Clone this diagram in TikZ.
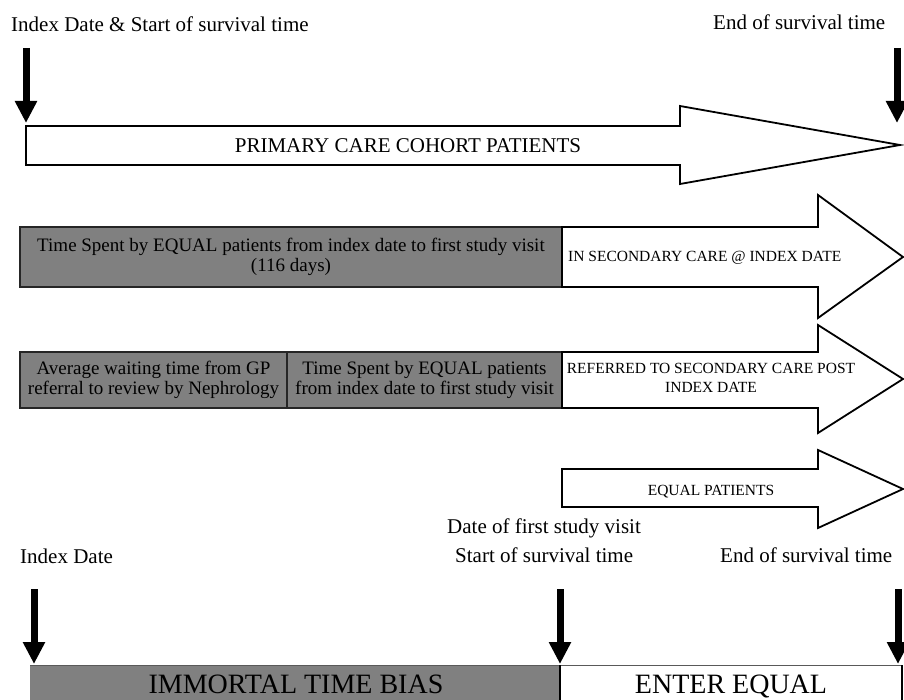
\documentclass[tikz,border=0pt]{standalone}
\usepackage{fontspec}
\setmainfont{Liberation Serif}
\usetikzlibrary{arrows.meta}
\tikzset{
  blockarrow/.style={draw=black, line width=1.8pt, fill=white, line join=miter},
  graybox/.style={draw=black!85, line width=1.3pt, fill=gray},
  lbl/.style={inner sep=0pt, font=\fontsize{21}{24}\selectfont},
  boxtxt/.style={inner sep=0pt, align=center, font=\fontsize{19}{20.5}\selectfont},
  arrtxt/.style={inner sep=0pt, align=center, font=\fontsize{15.5}{19}\selectfont},
  bigtxt/.style={inner sep=0pt, font=\fontsize{28}{30}\selectfont},
  pointer/.style={line width=7pt, -{Triangle[length=22pt, width=21pt]}},
}
\begin{document}
\begin{tikzpicture}[x=1pt, y=-1pt]
\useasboundingbox (0,0) rectangle (904,700);

% top labels
\node[lbl, anchor=base west] (ltop) at (11,32) {Index Date \& Start of survival time};
\node[lbl, anchor=base west] (rtop) at (713,30) {End of survival time};

% top pointer arrows
\coordinate (pa1) at (26,48);  \coordinate (pa2) at (26,123);
\coordinate (pb1) at (897,48); \coordinate (pb2) at (897,123);
\draw[pointer] (pa1) -- (pa2);
\draw[pointer] (pb1) -- (pb2);

% row 1: primary care arrow
\draw[blockarrow] (26,126) -- (680,126) -- (680,106) -- (900,145) -- (680,184) -- (680,165) -- (26,165) -- cycle;
\node[lbl, anchor=base] (prim) at (408,153) {PRIMARY CARE COHORT PATIENTS};

% row 2
\draw[graybox] (20,227) rectangle (562,287);
\node[boxtxt] (t2) at (291,257) {Time Spent by EQUAL patients from index date to first study visit\\(116 days)};
\draw[blockarrow] (562,227) -- (818,227) -- (818,195) -- (903,257) -- (818,318) -- (818,287) -- (562,287) -- cycle;
\node[arrtxt, anchor=base west] (a2) at (568,262) {IN SECONDARY CARE @ INDEX DATE};

% row 3
\draw[graybox] (20,352) rectangle (287,408);
\draw[graybox] (287,352) rectangle (562,408);
\node[boxtxt] (t3a) at (153.5,380) {Average waiting time from GP\\referral to review by Nephrology};
\node[boxtxt] (t3b) at (424.5,380) {Time Spent by EQUAL patients\\from index date to first study visit};
\draw[blockarrow] (562,352) -- (818,352) -- (818,325) -- (903,379) -- (818,433) -- (818,408) -- (562,408) -- cycle;
\node[arrtxt] (a3) at (711,378) {REFERRED TO SECONDARY CARE POST\\INDEX DATE};

% row 4
\draw[blockarrow] (562,469) -- (818,469) -- (818,450) -- (903,489) -- (818,528) -- (818,507) -- (562,507) -- cycle;
\node[arrtxt, anchor=base] (a4) at (711,495) {EQUAL PATIENTS};

% bottom labels
\node[lbl, anchor=base west] (d1) at (447,533) {Date of first study visit};
\node[lbl, anchor=base west] (d2) at (455,562) {Start of survival time};
\node[lbl, anchor=base west] (d3) at (20,563) {Index Date};
\node[lbl, anchor=base west] (d4) at (720,562) {End of survival time};

% bottom pointer arrows
\coordinate (pc1) at (34,589);  \coordinate (pc2) at (34,664);
\coordinate (pd1) at (560,589); \coordinate (pd2) at (560,664);
\coordinate (pe1) at (898,589); \coordinate (pe2) at (898,664);
\draw[pointer] (pc1) -- (pc2);
\draw[pointer] (pd1) -- (pd2);
\draw[pointer] (pe1) -- (pe2);

% bottom bar
\fill[gray] (30,665) rectangle (560,712);
\draw[gray!70!black, line width=1pt] (30,665) -- (902,665);
\draw[black, line width=1.5pt] (560,665) -- (560,712);
\draw[black, line width=1.5pt] (902,665) -- (902,712);
\node[bigtxt, anchor=base] (imm) at (296,693) {IMMORTAL TIME BIAS};
\node[bigtxt, anchor=base] (ent) at (731,693) {ENTER EQUAL};
\end{tikzpicture}
\end{document}
